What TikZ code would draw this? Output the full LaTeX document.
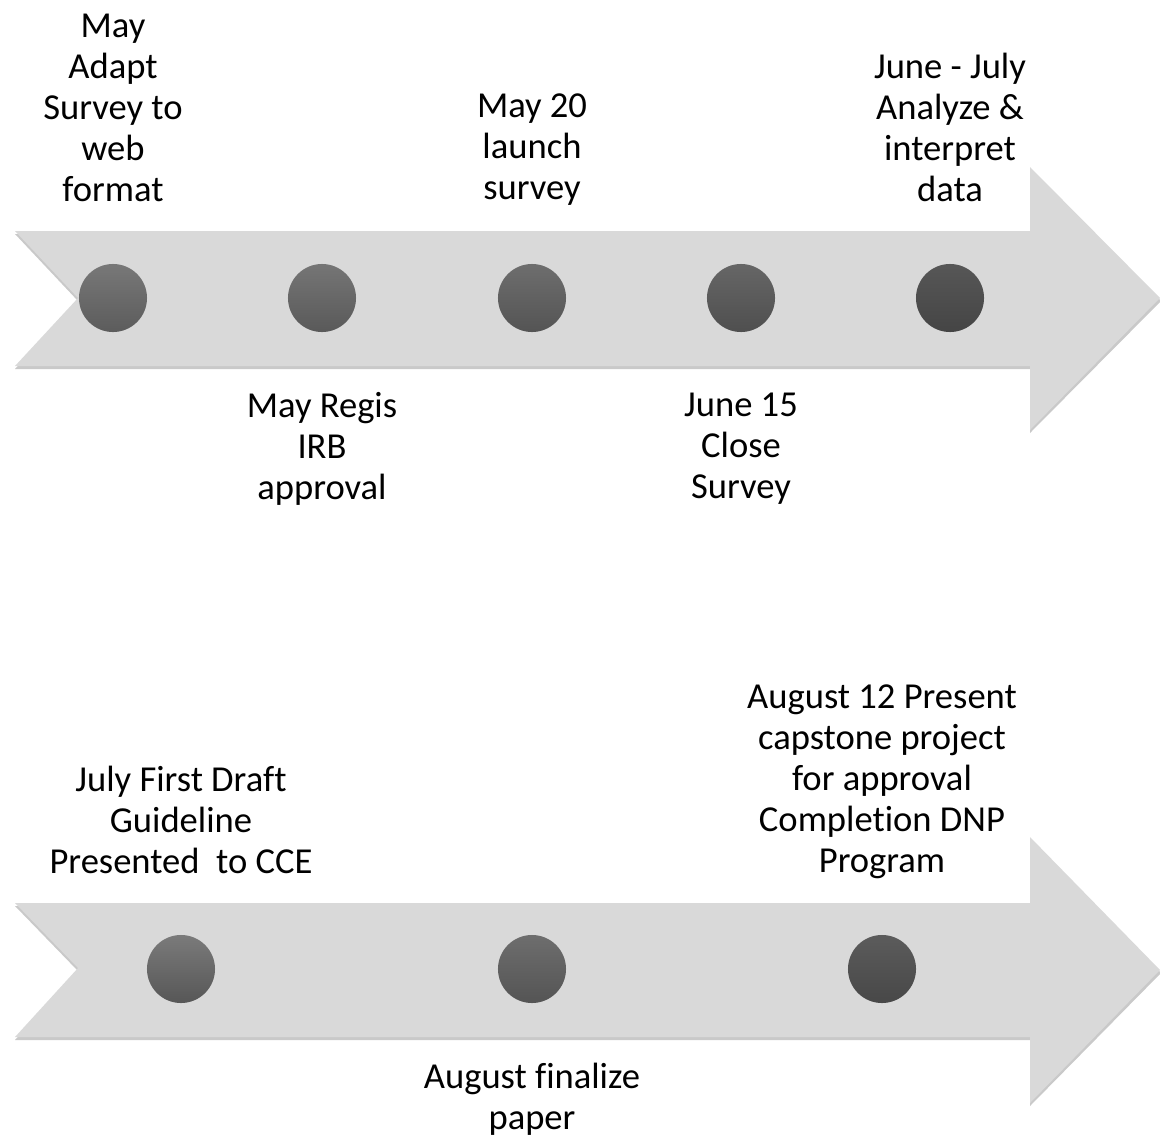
\documentclass[tikz,border=0pt]{standalone}
\usepackage{fontspec}
\setmainfont{Carlito}[Ligatures=CommonOff]
\begin{document}
\begin{tikzpicture}[x=0.01cm,y=-0.01cm,
  dot/.style={circle,minimum size=0.68cm,inner sep=0pt},
  lbl/.style={align=center,inner sep=0pt,font=\fontsize{10.4}{11.66}\selectfont}]
  \useasboundingbox (0,0) rectangle (1160,1139);

  % upper arrow
  \fill[gray!42] (15,234) -- (1030,234) -- (1030,170) -- (1161,301) -- (1030,433) -- (1030,369) -- (15,369) -- (78,301) -- cycle;
  \fill[gray!30] (15,231) -- (1030,231) -- (1030,167) -- (1160,298) -- (1030,430) -- (1030,366) -- (15,366) -- (78,298) -- cycle;
  % lower arrow
  \fill[gray!42] (15,906) -- (1030,906) -- (1030,840) -- (1161,973) -- (1030,1106) -- (1030,1040) -- (15,1040) -- (78,971) -- cycle;
  \fill[gray!30] (15,903) -- (1030,903) -- (1030,837) -- (1160,970) -- (1030,1103) -- (1030,1037) -- (15,1037) -- (78,968) -- cycle;

  \foreach \x/\t/\b [count=\i] in {113/53/64,322/54/65,532/57/67,741/60/69,950/66/73}
    \node[dot,top color=black!\t,bottom color=black!\b] (u\i) at (\x,298) {};
  \foreach \x/\t/\b [count=\i] in {181/52/66,532/57/67,882/64/72}
    \node[dot,top color=black!\t,bottom color=black!\b] (l\i) at (\x,969) {};

  \node[lbl] (t1) at (113,108) {May\\Adapt\\Survey to\\web\\format};
  \node[lbl] (t2) at (322,449) {May Regis\\IRB\\approval};
  \node[lbl] (t3) at (532,150) {May 20\\launch\\survey};
  \node[lbl] (t4) at (741,449) {June 15\\Close\\Survey};
  \node[lbl] (t5) at (950,127) {June - July\\Analyze \&\\interpret\\data};

  \node[lbl] (b1) at (181,820) {July First Draft\\Guideline\\Presented\ \ to CCE};
  \node[lbl] (b2) at (532,1099) {August finalize\\paper};
  \node[lbl] (b3) at (882,782) {August 12 Present\\capstone project\\for approval\\Completion DNP\\Program};
\end{tikzpicture}
\end{document}
